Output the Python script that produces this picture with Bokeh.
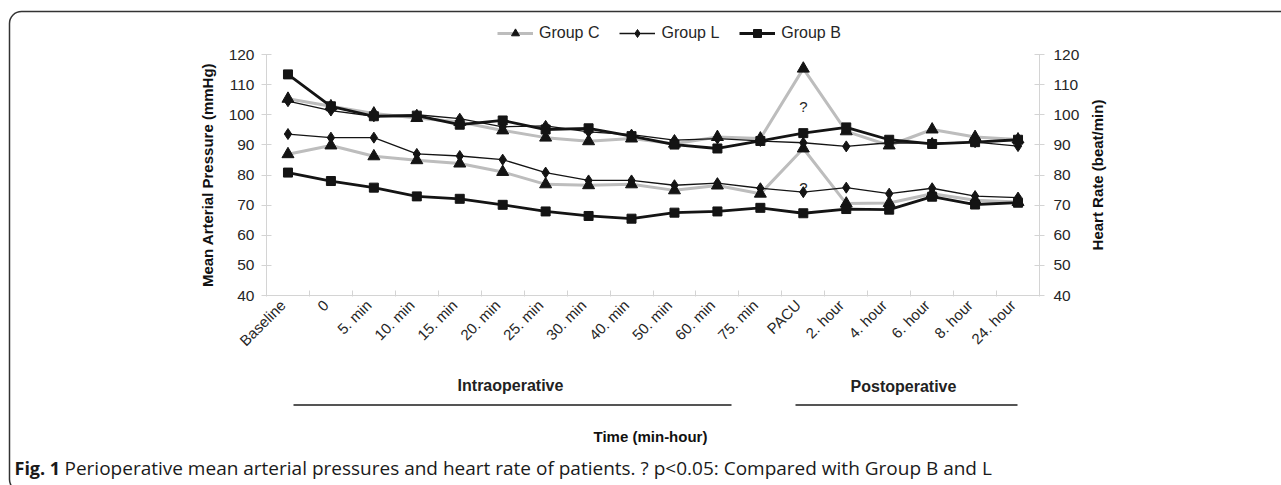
import math
from bokeh.plotting import figure
from bokeh.models import (FixedTicker, LinearAxis, Range1d, Legend, LegendItem,
                          Label, BoxAnnotation)
from bokeh.embed import file_html
from bokeh.resources import INLINE
from bokeh.core.properties import value

# ---------------- data ----------------
categories = ["Baseline", "0", "5. min", "10. min", "15. min", "20. min", "25. min",
              "30. min", "40. min", "50. min", "60. min", "75. min", "PACU",
              "2. hour", "4. hour", "6. hour", "8. hour", "24. hour"]

# upper set of curves (~90-115)
map_c = [105.3, 102.8, 100.4, 98.9, 97.6, 94.8, 92.4, 91.2, 92.1, 90.4, 92.6, 92.1,
         115.3, 94.5, 89.8, 95.1, 92.6, 91.8]
map_l = [104.5, 101.4, 99.5, 100.0, 98.7, 96.0, 96.3, 94.3, 93.4, 91.6, 92.1, 91.3,
         90.7, 89.5, 90.7, 90.6, 90.9, 89.6]
map_b = [113.4, 102.8, 99.5, 99.7, 96.7, 98.1, 95.1, 95.5, 92.9, 90.1, 88.8, 91.3,
         93.9, 95.8, 91.7, 90.3, 90.9, 91.7]

# lower set of curves (~65-94)
hr_c = [86.9, 89.8, 86.2, 84.9, 83.8, 81.0, 76.9, 76.6, 76.9, 74.9, 76.5, 73.8,
        88.8, 70.5, 70.7, 73.8, 71.6, 71.0]
hr_l = [93.6, 92.4, 92.4, 87.0, 86.3, 85.1, 80.8, 78.2, 78.2, 76.6, 77.3, 75.6,
        74.3, 75.8, 73.8, 75.6, 73.0, 72.5]
hr_b = [80.8, 78.0, 75.8, 72.9, 72.1, 70.1, 67.9, 66.4, 65.5, 67.5, 67.9, 69.1,
        67.3, 68.7, 68.5, 72.8, 70.2, 70.8]

sig_cat = ["PACU", "PACU"]
sig_y = [102.7, 76.0]
sig_txt = ["?", "?"]

y_ticks = [40, 50, 60, 70, 80, 90, 100, 110, 120]

# ---------------- layout helpers ----------------
W, H = 1281, 485
PL, PR, PT, PB = 266, 1039, 54, 295          # plot-area edges in canvas px
n = len(categories)
YMIN, YMAX = 40, 120
LABEL_SHIFT = 0.12                            # rotated labels sit slightly left


def dx(cx):
    return (cx - PL) * n / (PR - PL)


def dy(cy):
    return YMIN + (PB - cy) * (YMAX - YMIN) / (PB - PT)


xs = [i + 0.5 for i in range(n)]
idx = {c: i + 0.5 for i, c in enumerate(categories)}
sig_x = [idx[c] for c in sig_cat]
label_pos = [x - LABEL_SHIFT for x in xs]

FONT = "Liberation Sans"
AX_COL = "#d4d4d4"
TXT = "#262626"

p = figure(width=W, height=H, x_range=Range1d(dx(0), dx(W)),
           y_range=Range1d(dy(H), dy(0)),
           output_backend="svg", toolbar_location=None,
           x_axis_location=None, y_axis_location=None,
           min_border=0, min_border_left=0, min_border_right=0,
           min_border_top=0, min_border_bottom=0)
p.outline_line_color = None
p.xgrid.visible = False
p.ygrid.visible = False
p.background_fill_color = "white"
p.border_fill_color = "white"

# x axis (category axis drawn at y = 40)
xa = LinearAxis(fixed_location=YMIN, bounds=(0, n),
                ticker=FixedTicker(ticks=label_pos, minor_ticks=list(range(n + 1))))
xa.major_label_overrides = {x: c for x, c in zip(label_pos, categories)}
xa.major_label_orientation = math.pi / 4
xa.major_tick_in = 0
xa.major_tick_out = 0
xa.minor_tick_in = 5
xa.minor_tick_out = 1
xa.minor_tick_line_color = AX_COL
xa.axis_line_color = AX_COL
xa.major_label_text_font = FONT
xa.major_label_text_font_size = "15px"
xa.major_label_text_color = TXT
xa.major_label_standoff = 6
p.add_layout(xa, "below")


def y_axis(loc, standoff):
    a = LinearAxis(fixed_location=loc, bounds=(YMIN, YMAX),
                   ticker=FixedTicker(ticks=y_ticks))
    a.minor_tick_line_color = None
    a.major_tick_in = 5
    a.major_tick_out = 5
    a.major_tick_line_color = AX_COL
    a.axis_line_color = AX_COL
    a.major_label_text_font = FONT
    a.major_label_text_font_size = "15.5px"
    a.major_label_text_color = TXT
    a.major_label_standoff = standoff
    return a


p.add_layout(y_axis(0, 7), "left")
p.add_layout(y_axis(n, 9), "right")

# significance marks
p.text(x=sig_x, y=sig_y, text=sig_txt, text_align="center", text_baseline="middle",
       text_font=value(FONT), text_font_size="15px", text_color=TXT)

# series
C_LINE = "#bdbdbd"
K = "#141414"
cl_u = p.line(xs, map_c, line_color=C_LINE, line_width=3)
cl_l = p.line(xs, hr_c, line_color=C_LINE, line_width=3)
ll_u = p.line(xs, map_l, line_color=K, line_width=1.3)
ll_l = p.line(xs, hr_l, line_color=K, line_width=1.3)
bl_u = p.line(xs, map_b, line_color=K, line_width=2.8)
bl_l = p.line(xs, hr_b, line_color=K, line_width=2.8)

cs_u = p.scatter(xs, map_c, marker="triangle", size=12, fill_color=K, line_color=K)
cs_l = p.scatter(xs, hr_c, marker="triangle", size=12, fill_color=K, line_color=K)
ls_u = p.scatter(xs, map_l, marker="diamond", size=11, fill_color=K, line_color=K)
ls_l = p.scatter(xs, hr_l, marker="diamond", size=11, fill_color=K, line_color=K)
bs_u = p.scatter(xs, map_b, marker="square", size=9, fill_color=K, line_color=K)
bs_l = p.scatter(xs, hr_b, marker="square", size=9, fill_color=K, line_color=K)

legend = Legend(items=[LegendItem(label="Group C", renderers=[cl_u, cs_u]),
                       LegendItem(label="Group L", renderers=[ll_u, ls_u]),
                       LegendItem(label="Group B", renderers=[bl_u, bs_u])],
                orientation="horizontal", location=(497, H - 43),
                glyph_width=36, glyph_height=20, label_standoff=6, spacing=20,
                padding=0, margin=0, background_fill_alpha=0,
                border_line_color=None, label_text_font=FONT,
                label_text_font_size="16px", label_text_color=TXT)
p.add_layout(legend)

# axis titles
p.add_layout(Label(x=dx(207), y=(YMIN + YMAX) / 2, text="Mean Arterial Pressure (mmHg)",
                   angle=math.pi / 2, text_align="center", text_baseline="middle",
                   text_font=FONT, text_font_size="15px", text_font_style="bold",
                   text_color="#111111"))
p.add_layout(Label(x=dx(1097), y=(YMIN + YMAX) / 2, text="Heart Rate (beat/min)",
                   angle=math.pi / 2, text_align="center", text_baseline="middle",
                   text_font=FONT, text_font_size="15px", text_font_style="bold",
                   text_color="#111111"))

# period labels and underlines
p.add_layout(Label(x=dx(510), y=dy(385), text="Intraoperative",
                   text_align="center", text_baseline="middle", text_font=FONT,
                   text_font_size="16px", text_font_style="bold", text_color="#222222"))
p.add_layout(Label(x=dx(903), y=dy(386), text="Postoperative",
                   text_align="center", text_baseline="middle", text_font=FONT,
                   text_font_size="16px", text_font_style="bold", text_color="#222222"))
p.add_layout(BoxAnnotation(left=dx(293), right=dx(731), top=dy(403.5),
                           bottom=dy(405.5), fill_color="#555555", fill_alpha=1,
                           line_alpha=0))
p.add_layout(BoxAnnotation(left=dx(795), right=dx(1017), top=dy(403.5),
                           bottom=dy(405.5), fill_color="#555555", fill_alpha=1,
                           line_alpha=0))
p.add_layout(Label(x=dx(650), y=dy(436), text="Time (min-hour)",
                   text_align="center", text_baseline="middle", text_font=FONT,
                   text_font_size="15px", text_font_style="bold", text_color="#111111"))

# caption
p.add_layout(Label(x=dx(14), y=dy(467), text="Fig. 1", text_align="left",
                   text_baseline="alphabetic", text_font="Open Sans",
                   text_font_size="18px", text_font_style="bold", text_color="#1a1a1a"))
p.add_layout(Label(x=dx(64), y=dy(467),
                   text="Perioperative mean arterial pressures and heart rate of patients. ? p<0.05: Compared with Group B and L",
                   text_align="left", text_baseline="alphabetic", text_font="Open Sans",
                   text_font_size="19px", text_color="#1a1a1a"))

# outer rounded frame
p.add_layout(BoxAnnotation(left=9, right=W + 40, top=11, bottom=H + 6,
                           left_units="canvas", right_units="canvas",
                           top_units="canvas", bottom_units="canvas",
                           border_radius=12, fill_alpha=0, line_color="#333333",
                           line_width=1.5, line_alpha=1))

open("out.html", "w").write(file_html(p, INLINE))
